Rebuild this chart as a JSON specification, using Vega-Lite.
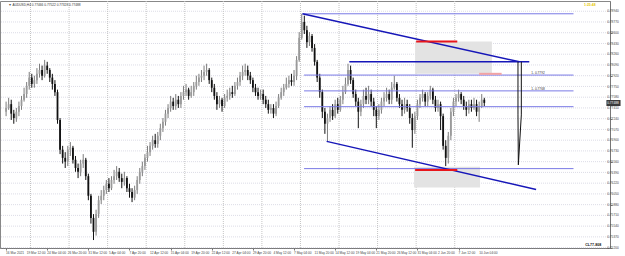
{
"$schema":"https://vega.github.io/schema/vega-lite/v6.json",
"width":610,"height":247,
"autosize":{"type":"none"},
"padding":{"left":0,"top":1,"right":15,"bottom":8},
"background":"white",
"config":{"view":{"stroke":"#888","strokeWidth":1},"font":"Liberation Sans",
 "axis":{"labels":false,"grid":false,"tickSize":2,"tickColor":"#777","domainColor":"#777","title":null}},
"datasets":{
"bars":[
{"i":0,"o":0.7735,"c":0.7741,"h":0.7751,"l":0.7728},
{"i":2,"o":0.7741,"c":0.7747,"h":0.7757,"l":0.7738},
{"i":4,"o":0.7747,"c":0.7732,"h":0.7754,"l":0.7722},
{"i":6,"o":0.7732,"c":0.7725,"h":0.7738,"l":0.7716},
{"i":8,"o":0.7725,"c":0.7735,"h":0.7741,"l":0.7719},
{"i":10,"o":0.7735,"c":0.7744,"h":0.7751,"l":0.7728},
{"i":12,"o":0.7744,"c":0.7754,"h":0.7760,"l":0.7738},
{"i":14,"o":0.7754,"c":0.7763,"h":0.7773,"l":0.7751},
{"i":16,"o":0.7763,"c":0.7776,"h":0.7782,"l":0.7757},
{"i":18,"o":0.7776,"c":0.7789,"h":0.7798,"l":0.7770},
{"i":20,"o":0.7789,"c":0.7779,"h":0.7795,"l":0.7773},
{"i":22,"o":0.7779,"c":0.7785,"h":0.7792,"l":0.7773},
{"i":24,"o":0.7785,"c":0.7795,"h":0.7804,"l":0.7779},
{"i":26,"o":0.7795,"c":0.7801,"h":0.7811,"l":0.7789},
{"i":28,"o":0.7801,"c":0.7792,"h":0.7808,"l":0.7785},
{"i":30,"o":0.7792,"c":0.7808,"h":0.7817,"l":0.7789},
{"i":32,"o":0.7808,"c":0.7801,"h":0.7814,"l":0.7795},
{"i":34,"o":0.7801,"c":0.7789,"h":0.7804,"l":0.7782},
{"i":36,"o":0.7789,"c":0.7779,"h":0.7795,"l":0.7770},
{"i":38,"o":0.7779,"c":0.7766,"h":0.7785,"l":0.7760},
{"i":40,"o":0.7766,"c":0.7722,"h":0.7770,"l":0.7716},
{"i":42,"o":0.7722,"c":0.7675,"h":0.7725,"l":0.7668},
{"i":44,"o":0.7675,"c":0.7662,"h":0.7681,"l":0.7653},
{"i":46,"o":0.7662,"c":0.7656,"h":0.7671,"l":0.7646},
{"i":48,"o":0.7656,"c":0.7675,"h":0.7681,"l":0.7649},
{"i":50,"o":0.7675,"c":0.7678,"h":0.7687,"l":0.7665},
{"i":52,"o":0.7678,"c":0.7659,"h":0.7681,"l":0.7653},
{"i":54,"o":0.7659,"c":0.7646,"h":0.7665,"l":0.7640},
{"i":56,"o":0.7646,"c":0.7640,"h":0.7653,"l":0.7630},
{"i":58,"o":0.7640,"c":0.7653,"h":0.7659,"l":0.7633},
{"i":60,"o":0.7653,"c":0.7659,"h":0.7668,"l":0.7646},
{"i":62,"o":0.7659,"c":0.7633,"h":0.7662,"l":0.7627},
{"i":64,"o":0.7633,"c":0.7602,"h":0.7637,"l":0.7595},
{"i":66,"o":0.7602,"c":0.7567,"h":0.7605,"l":0.7558},
{"i":68,"o":0.7567,"c":0.7545,"h":0.7573,"l":0.7532},
{"i":70,"o":0.7545,"c":0.7573,"h":0.7580,"l":0.7539},
{"i":72,"o":0.7573,"c":0.7595,"h":0.7602,"l":0.7567},
{"i":74,"o":0.7595,"c":0.7602,"h":0.7611,"l":0.7589},
{"i":76,"o":0.7602,"c":0.7611,"h":0.7618,"l":0.7595},
{"i":78,"o":0.7611,"c":0.7621,"h":0.7627,"l":0.7605},
{"i":80,"o":0.7621,"c":0.7614,"h":0.7630,"l":0.7608},
{"i":82,"o":0.7614,"c":0.7627,"h":0.7633,"l":0.7611},
{"i":84,"o":0.7627,"c":0.7633,"h":0.7643,"l":0.7621},
{"i":86,"o":0.7633,"c":0.7640,"h":0.7649,"l":0.7627},
{"i":88,"o":0.7640,"c":0.7630,"h":0.7646,"l":0.7624},
{"i":90,"o":0.7630,"c":0.7624,"h":0.7637,"l":0.7614},
{"i":92,"o":0.7624,"c":0.7630,"h":0.7640,"l":0.7618},
{"i":94,"o":0.7630,"c":0.7614,"h":0.7633,"l":0.7608},
{"i":96,"o":0.7614,"c":0.7608,"h":0.7621,"l":0.7599},
{"i":98,"o":0.7608,"c":0.7599,"h":0.7614,"l":0.7592},
{"i":100,"o":0.7599,"c":0.7611,"h":0.7618,"l":0.7595},
{"i":102,"o":0.7611,"c":0.7627,"h":0.7633,"l":0.7605},
{"i":104,"o":0.7627,"c":0.7640,"h":0.7646,"l":0.7621},
{"i":106,"o":0.7640,"c":0.7649,"h":0.7656,"l":0.7633},
{"i":108,"o":0.7649,"c":0.7662,"h":0.7668,"l":0.7643},
{"i":110,"o":0.7662,"c":0.7671,"h":0.7681,"l":0.7656},
{"i":112,"o":0.7671,"c":0.7681,"h":0.7687,"l":0.7665},
{"i":114,"o":0.7681,"c":0.7690,"h":0.7697,"l":0.7675},
{"i":116,"o":0.7690,"c":0.7684,"h":0.7700,"l":0.7678},
{"i":118,"o":0.7684,"c":0.7697,"h":0.7703,"l":0.7678},
{"i":120,"o":0.7697,"c":0.7709,"h":0.7716,"l":0.7690},
{"i":122,"o":0.7709,"c":0.7719,"h":0.7725,"l":0.7703},
{"i":124,"o":0.7719,"c":0.7732,"h":0.7738,"l":0.7713},
{"i":126,"o":0.7732,"c":0.7741,"h":0.7747,"l":0.7725},
{"i":128,"o":0.7741,"c":0.7751,"h":0.7760,"l":0.7735},
{"i":130,"o":0.7751,"c":0.7744,"h":0.7757,"l":0.7738},
{"i":132,"o":0.7744,"c":0.7754,"h":0.7763,"l":0.7738},
{"i":134,"o":0.7754,"c":0.7747,"h":0.7760,"l":0.7741},
{"i":136,"o":0.7747,"c":0.7760,"h":0.7766,"l":0.7741},
{"i":138,"o":0.7760,"c":0.7766,"h":0.7776,"l":0.7754},
{"i":140,"o":0.7766,"c":0.7770,"h":0.7779,"l":0.7760},
{"i":142,"o":0.7770,"c":0.7760,"h":0.7773,"l":0.7754},
{"i":144,"o":0.7760,"c":0.7766,"h":0.7776,"l":0.7757},
{"i":146,"o":0.7766,"c":0.7776,"h":0.7782,"l":0.7760},
{"i":148,"o":0.7776,"c":0.7782,"h":0.7792,"l":0.7770},
{"i":150,"o":0.7782,"c":0.7789,"h":0.7795,"l":0.7776},
{"i":152,"o":0.7789,"c":0.7792,"h":0.7801,"l":0.7782},
{"i":154,"o":0.7792,"c":0.7798,"h":0.7808,"l":0.7785},
{"i":156,"o":0.7798,"c":0.7801,"h":0.7811,"l":0.7792},
{"i":158,"o":0.7801,"c":0.7785,"h":0.7804,"l":0.7779},
{"i":160,"o":0.7785,"c":0.7773,"h":0.7789,"l":0.7766},
{"i":162,"o":0.7773,"c":0.7760,"h":0.7779,"l":0.7754},
{"i":164,"o":0.7760,"c":0.7747,"h":0.7766,"l":0.7738},
{"i":166,"o":0.7747,"c":0.7754,"h":0.7760,"l":0.7741},
{"i":168,"o":0.7754,"c":0.7744,"h":0.7757,"l":0.7735},
{"i":170,"o":0.7744,"c":0.7757,"h":0.7763,"l":0.7741},
{"i":172,"o":0.7757,"c":0.7760,"h":0.7770,"l":0.7751},
{"i":174,"o":0.7760,"c":0.7766,"h":0.7773,"l":0.7754},
{"i":176,"o":0.7766,"c":0.7763,"h":0.7776,"l":0.7757},
{"i":178,"o":0.7763,"c":0.7776,"h":0.7782,"l":0.7760},
{"i":180,"o":0.7776,"c":0.7782,"h":0.7789,"l":0.7770},
{"i":182,"o":0.7782,"c":0.7792,"h":0.7798,"l":0.7776},
{"i":184,"o":0.7792,"c":0.7798,"h":0.7808,"l":0.7785},
{"i":186,"o":0.7798,"c":0.7801,"h":0.7811,"l":0.7792},
{"i":188,"o":0.7801,"c":0.7792,"h":0.7808,"l":0.7785},
{"i":190,"o":0.7792,"c":0.7785,"h":0.7798,"l":0.7779},
{"i":192,"o":0.7785,"c":0.7773,"h":0.7789,"l":0.7766},
{"i":194,"o":0.7773,"c":0.7766,"h":0.7779,"l":0.7760},
{"i":196,"o":0.7766,"c":0.7760,"h":0.7773,"l":0.7754},
{"i":198,"o":0.7760,"c":0.7763,"h":0.7770,"l":0.7754},
{"i":200,"o":0.7763,"c":0.7754,"h":0.7770,"l":0.7747},
{"i":202,"o":0.7754,"c":0.7747,"h":0.7760,"l":0.7741},
{"i":204,"o":0.7747,"c":0.7738,"h":0.7754,"l":0.7732},
{"i":206,"o":0.7738,"c":0.7741,"h":0.7747,"l":0.7732},
{"i":208,"o":0.7741,"c":0.7732,"h":0.7747,"l":0.7725},
{"i":210,"o":0.7732,"c":0.7744,"h":0.7751,"l":0.7728},
{"i":212,"o":0.7744,"c":0.7757,"h":0.7763,"l":0.7741},
{"i":214,"o":0.7757,"c":0.7766,"h":0.7773,"l":0.7754},
{"i":216,"o":0.7766,"c":0.7773,"h":0.7779,"l":0.7760},
{"i":218,"o":0.7773,"c":0.7779,"h":0.7789,"l":0.7770},
{"i":220,"o":0.7779,"c":0.7785,"h":0.7792,"l":0.7773},
{"i":222,"o":0.7785,"c":0.7782,"h":0.7795,"l":0.7776},
{"i":224,"o":0.7782,"c":0.7792,"h":0.7801,"l":0.7776},
{"i":226,"o":0.7792,"c":0.7817,"h":0.7823,"l":0.7785},
{"i":228,"o":0.7817,"c":0.7852,"h":0.7861,"l":0.7814},
{"i":230,"o":0.7852,"c":0.7877,"h":0.7890,"l":0.7849},
{"i":232,"o":0.7877,"c":0.7864,"h":0.7887,"l":0.7858},
{"i":234,"o":0.7864,"c":0.7845,"h":0.7871,"l":0.7836},
{"i":236,"o":0.7845,"c":0.7855,"h":0.7861,"l":0.7839},
{"i":238,"o":0.7855,"c":0.7836,"h":0.7858,"l":0.7830},
{"i":240,"o":0.7836,"c":0.7814,"h":0.7842,"l":0.7808},
{"i":242,"o":0.7814,"c":0.7789,"h":0.7817,"l":0.7782},
{"i":244,"o":0.7789,"c":0.7766,"h":0.7795,"l":0.7757},
{"i":246,"o":0.7766,"c":0.7735,"h":0.7770,"l":0.7725},
{"i":248,"o":0.7735,"c":0.7716,"h":0.7741,"l":0.7700},
{"i":250,"o":0.7716,"c":0.7725,"h":0.7732,"l":0.7687},
{"i":252,"o":0.7725,"c":0.7738,"h":0.7744,"l":0.7719},
{"i":254,"o":0.7738,"c":0.7728,"h":0.7747,"l":0.7722},
{"i":256,"o":0.7728,"c":0.7747,"h":0.7754,"l":0.7725},
{"i":258,"o":0.7747,"c":0.7738,"h":0.7757,"l":0.7732},
{"i":260,"o":0.7738,"c":0.7754,"h":0.7760,"l":0.7735},
{"i":262,"o":0.7754,"c":0.7766,"h":0.7776,"l":0.7747},
{"i":264,"o":0.7766,"c":0.7779,"h":0.7789,"l":0.7763},
{"i":266,"o":0.7779,"c":0.7801,"h":0.7811,"l":0.7776},
{"i":268,"o":0.7801,"c":0.7785,"h":0.7808,"l":0.7779},
{"i":270,"o":0.7785,"c":0.7763,"h":0.7789,"l":0.7757},
{"i":272,"o":0.7763,"c":0.7751,"h":0.7770,"l":0.7744},
{"i":274,"o":0.7751,"c":0.7735,"h":0.7757,"l":0.7709},
{"i":276,"o":0.7735,"c":0.7747,"h":0.7754,"l":0.7728},
{"i":278,"o":0.7747,"c":0.7760,"h":0.7770,"l":0.7741},
{"i":280,"o":0.7760,"c":0.7754,"h":0.7773,"l":0.7747},
{"i":282,"o":0.7754,"c":0.7763,"h":0.7776,"l":0.7747},
{"i":284,"o":0.7763,"c":0.7751,"h":0.7770,"l":0.7744},
{"i":286,"o":0.7751,"c":0.7738,"h":0.7757,"l":0.7728},
{"i":288,"o":0.7738,"c":0.7728,"h":0.7744,"l":0.7709},
{"i":290,"o":0.7728,"c":0.7738,"h":0.7747,"l":0.7722},
{"i":292,"o":0.7738,"c":0.7751,"h":0.7757,"l":0.7732},
{"i":294,"o":0.7751,"c":0.7757,"h":0.7766,"l":0.7744},
{"i":296,"o":0.7757,"c":0.7763,"h":0.7773,"l":0.7751},
{"i":298,"o":0.7763,"c":0.7754,"h":0.7770,"l":0.7747},
{"i":300,"o":0.7754,"c":0.7773,"h":0.7782,"l":0.7747},
{"i":302,"o":0.7773,"c":0.7779,"h":0.7792,"l":0.7770},
{"i":304,"o":0.7779,"c":0.7757,"h":0.7782,"l":0.7751},
{"i":306,"o":0.7757,"c":0.7747,"h":0.7763,"l":0.7741},
{"i":308,"o":0.7747,"c":0.7738,"h":0.7754,"l":0.7728},
{"i":310,"o":0.7738,"c":0.7747,"h":0.7757,"l":0.7732},
{"i":312,"o":0.7747,"c":0.7741,"h":0.7754,"l":0.7735},
{"i":314,"o":0.7741,"c":0.7725,"h":0.7747,"l":0.7716},
{"i":316,"o":0.7725,"c":0.7706,"h":0.7732,"l":0.7678},
{"i":318,"o":0.7706,"c":0.7728,"h":0.7735,"l":0.7700},
{"i":320,"o":0.7728,"c":0.7747,"h":0.7754,"l":0.7722},
{"i":322,"o":0.7747,"c":0.7757,"h":0.7763,"l":0.7741},
{"i":324,"o":0.7757,"c":0.7763,"h":0.7770,"l":0.7751},
{"i":326,"o":0.7763,"c":0.7751,"h":0.7766,"l":0.7744},
{"i":328,"o":0.7751,"c":0.7760,"h":0.7766,"l":0.7744},
{"i":330,"o":0.7760,"c":0.7770,"h":0.7776,"l":0.7754},
{"i":332,"o":0.7770,"c":0.7754,"h":0.7773,"l":0.7747},
{"i":334,"o":0.7754,"c":0.7741,"h":0.7760,"l":0.7735},
{"i":336,"o":0.7741,"c":0.7747,"h":0.7754,"l":0.7735},
{"i":338,"o":0.7747,"c":0.7728,"h":0.7751,"l":0.7706},
{"i":340,"o":0.7728,"c":0.7681,"h":0.7732,"l":0.7675},
{"i":342,"o":0.7681,"c":0.7662,"h":0.7690,"l":0.7649},
{"i":344,"o":0.7662,"c":0.7697,"h":0.7703,"l":0.7653},
{"i":346,"o":0.7697,"c":0.7735,"h":0.7741,"l":0.7690},
{"i":348,"o":0.7735,"c":0.7751,"h":0.7757,"l":0.7728},
{"i":350,"o":0.7751,"c":0.7757,"h":0.7763,"l":0.7744},
{"i":352,"o":0.7757,"c":0.7763,"h":0.7770,"l":0.7751},
{"i":354,"o":0.7763,"c":0.7754,"h":0.7766,"l":0.7747},
{"i":356,"o":0.7754,"c":0.7744,"h":0.7760,"l":0.7738},
{"i":358,"o":0.7744,"c":0.7738,"h":0.7751,"l":0.7728},
{"i":360,"o":0.7738,"c":0.7747,"h":0.7754,"l":0.7732},
{"i":362,"o":0.7747,"c":0.7741,"h":0.7754,"l":0.7735},
{"i":364,"o":0.7741,"c":0.7747,"h":0.7757,"l":0.7738},
{"i":366,"o":0.7747,"c":0.7735,"h":0.7754,"l":0.7728},
{"i":368,"o":0.7735,"c":0.7744,"h":0.7751,"l":0.7719},
{"i":370,"o":0.7744,"c":0.7754,"h":0.7763,"l":0.7741},
{"i":372,"o":0.7754,"c":0.7749,"h":0.7757,"l":0.7744}
],
"yticks":[{"v":0.7894},{"v":0.7877},{"v":0.7860},{"v":0.7843},{"v":0.7826},{"v":0.7809},{"v":0.7792},{"v":0.7775},{"v":0.7758},{"v":0.7741},{"v":0.7724},{"v":0.7707},{"v":0.7690},{"v":0.7673},{"v":0.7656},{"v":0.7639},{"v":0.7622},{"v":0.7605},{"v":0.7588},{"v":0.7571},{"v":0.7554},{"v":0.7537},{"v":0.7520}],
"xticks":[{"i":0,"t":"16 Mar 2021"},{"i":16,"t":"19 Mar 12:00"},{"i":32,"t":"24 Mar 04:00"},{"i":48,"t":"26 Mar 20:00"},{"i":64,"t":"31 Mar 12:00"},{"i":80,"t":"5 Apr 04:00"},{"i":96,"t":"7 Apr 20:00"},{"i":112,"t":"12 Apr 12:00"},{"i":128,"t":"15 Apr 04:00"},{"i":144,"t":"19 Apr 20:00"},{"i":160,"t":"22 Apr 12:00"},{"i":176,"t":"27 Apr 04:00"},{"i":192,"t":"29 Apr 20:00"},{"i":208,"t":"4 May 12:00"},{"i":224,"t":"7 May 04:00"},{"i":240,"t":"11 May 20:00"},{"i":256,"t":"14 May 12:00"},{"i":272,"t":"19 May 04:00"},{"i":288,"t":"21 May 20:00"},{"i":304,"t":"26 May 12:00"},{"i":320,"t":"31 May 04:00"},{"i":336,"t":"2 Jun 20:00"},{"i":352,"t":"7 Jun 12:00"},{"i":368,"t":"10 Jun 04:00"}],
"seps":[{"i":19},{"i":49},{"i":79},{"i":109},{"i":139},{"i":169},{"i":199},{"i":229},{"i":259},{"i":289},{"i":319},{"i":349}],
"segs":[
{"g":"thin","x":231,"y":0.7890,"x2":441.4,"y2":0.7890},
{"g":"thin","x":231.8,"y":0.7793,"x2":441.4,"y2":0.7793},
{"g":"thin","x":231.8,"y":0.7768,"x2":441.4,"y2":0.7768},
{"g":"thin","x":231.8,"y":0.7743,"x2":441.4,"y2":0.7743},
{"g":"thin","x":231.8,"y":0.7645,"x2":441.4,"y2":0.7645},
{"g":"bold","x":230.5,"y":0.7890,"x2":399.3,"y2":0.7814},
{"g":"bold","x":267,"y":0.7814,"x2":407,"y2":0.7814},
{"g":"bold","x":249.4,"y":0.7688,"x2":412.3,"y2":0.7612},
{"g":"red","x":319,"y":0.7846,"x2":351,"y2":0.7846},
{"g":"red","x":318.2,"y":0.7643,"x2":351,"y2":0.7643},
{"g":"pink","x":368,"y":0.7795,"x2":385.5,"y2":0.7795},
{"g":"shape","x":398.2,"y":0.7814,"x2":398.2,"y2":0.7730},
{"g":"shape","x":398.2,"y":0.7730,"x2":398.5,"y2":0.7651},
{"g":"shape","x":400.8,"y":0.7814,"x2":400.8,"y2":0.7730},
{"g":"shape","x":400.8,"y":0.7730,"x2":398.5,"y2":0.7651}
],
"rects":[
{"x":318.2,"x2":377.9,"y":0.7846,"y2":0.7795},
{"x":317.4,"x2":368.7,"y":0.7648,"y2":0.7615}
],
"labels":[
{"x":408.5,"y":0.7796,"t":"1- 0.7792"},
{"x":408.5,"y":0.7771,"t":"1- 0.7768"}
]
},
"layer":[
{"data":{"name":"yticks"},"mark":{"type":"rule","color":"#dcdce6","strokeDash":[1,1],"strokeWidth":1},
 "encoding":{"y":{"field":"v","type":"quantitative","scale":{"domain":[0.75194,0.79102],"nice":false,"zero":false},
   "axis":{"orient":"right","values":[0.7894,0.7877,0.7860,0.7843,0.7826,0.7809,0.7792,0.7775,0.7758,0.7741,0.7724,0.7707,0.7690,0.7673,0.7656,0.7639,0.7622,0.7605,0.7588,0.7571,0.7554,0.7537,0.7520]}}}},
{"data":{"name":"seps"},"mark":{"type":"rule","color":"#c4c4c4","strokeDash":[1,1],"strokeWidth":1},
 "encoding":{"x":{"field":"i","type":"quantitative","scale":{"domain":[-0.84,465.9],"nice":false,"zero":false},
   "axis":{"orient":"bottom","values":[0,16,32,48,64,80,96,112,128,144,160,176,192,208,224,240,256,272,288,304,320,336,352,368]}}}},
{"data":{"name":"rects"},"mark":{"type":"rect","color":"#e3e3e3"},
 "encoding":{"x":{"field":"x","type":"quantitative"},"x2":{"field":"x2"},"y":{"field":"y","type":"quantitative"},"y2":{"field":"y2"}}},
{"data":{"name":"bars"},"mark":{"type":"rule","strokeWidth":1},
 "encoding":{"x":{"field":"i","type":"quantitative"},"y":{"field":"l","type":"quantitative"},"y2":{"field":"h"},
  "color":{"condition":{"test":"datum.c >= datum.o","value":"#7d7d7d"},"value":"#111"}}},
{"data":{"name":"bars"},"mark":{"type":"bar","size":1.8},
 "encoding":{"x":{"field":"i","type":"quantitative"},"y":{"field":"o","type":"quantitative"},"y2":{"field":"c"},
  "color":{"condition":{"test":"datum.c >= datum.o","value":"#9a9a9a"},"value":"#111"}}},
{"data":{"name":"segs"},"transform":[{"filter":"datum.g=='thin'"}],"mark":{"type":"rule","color":"#7a7ae6","strokeWidth":1},
 "encoding":{"x":{"field":"x","type":"quantitative"},"y":{"field":"y","type":"quantitative"},"x2":{"field":"x2"},"y2":{"field":"y2"}}},
{"data":{"name":"segs"},"transform":[{"filter":"datum.g=='bold'"}],"mark":{"type":"rule","color":"#1616b8","strokeWidth":1.4},
 "encoding":{"x":{"field":"x","type":"quantitative"},"y":{"field":"y","type":"quantitative"},"x2":{"field":"x2"},"y2":{"field":"y2"}}},
{"data":{"name":"segs"},"transform":[{"filter":"datum.g=='red'"}],"mark":{"type":"rule","color":"#e8151b","strokeWidth":2},
 "encoding":{"x":{"field":"x","type":"quantitative"},"y":{"field":"y","type":"quantitative"},"x2":{"field":"x2"},"y2":{"field":"y2"}}},
{"data":{"name":"segs"},"transform":[{"filter":"datum.g=='pink'"}],"mark":{"type":"rule","color":"#f2a3a3","strokeWidth":2},
 "encoding":{"x":{"field":"x","type":"quantitative"},"y":{"field":"y","type":"quantitative"},"x2":{"field":"x2"},"y2":{"field":"y2"}}},
{"data":{"name":"segs"},"transform":[{"filter":"datum.g=='shape'"}],"mark":{"type":"rule","color":"#111","strokeWidth":1},
 "encoding":{"x":{"field":"x","type":"quantitative"},"y":{"field":"y","type":"quantitative"},"x2":{"field":"x2"},"y2":{"field":"y2"}}},
{"data":{"name":"labels"},"mark":{"type":"text","fontSize":3.2,"color":"#333","align":"left","baseline":"middle"},
 "encoding":{"x":{"field":"x","type":"quantitative"},"y":{"field":"y","type":"quantitative"},"text":{"field":"t"}}},
{"data":{"name":"yticks"},"mark":{"type":"text","fontSize":3.2,"color":"#444","align":"left","baseline":"middle"},
 "encoding":{"x":{"datum":467.6,"type":"quantitative"},"y":{"field":"v","type":"quantitative"},"text":{"field":"v","type":"quantitative","format":".5f"}}},
{"data":{"name":"xticks"},"mark":{"type":"text","fontSize":3.2,"color":"#444","align":"left","baseline":"middle"},
 "encoding":{"x":{"field":"i","type":"quantitative"},"y":{"datum":0.7512,"type":"quantitative"},"text":{"field":"t"}}},
{"data":{"values":[{"t":"AUDUSD,H4  0.77466 0.77522 0.77328 0.77488","x":5,"y":0.7904}]},
 "mark":{"type":"text","fontSize":3.2,"color":"#333","align":"left","baseline":"middle"},
 "encoding":{"x":{"field":"x","type":"quantitative"},"y":{"field":"y","type":"quantitative"},"text":{"field":"t"}}},
{"data":{"values":[{"t":"\u25BE","x":2,"y":0.7904}]},
 "mark":{"type":"text","fontSize":4,"color":"#555","align":"left","baseline":"middle"},
 "encoding":{"x":{"field":"x","type":"quantitative"},"y":{"field":"y","type":"quantitative"},"text":{"field":"t"}}},
{"data":{"values":[{"t":"1:25:48","x":449.5,"y":0.7904}]},
 "mark":{"type":"text","fontSize":3.4,"color":"#e8c800","align":"left","baseline":"middle","fontWeight":"bold"},
 "encoding":{"x":{"field":"x","type":"quantitative"},"y":{"field":"y","type":"quantitative"},"text":{"field":"t"}}},
{"data":{"values":[{"t":"CL77-808","x":450.5,"y":0.7524}]},
 "mark":{"type":"text","fontSize":3.6,"color":"#111","align":"left","baseline":"middle","fontWeight":"bold"},
 "encoding":{"x":{"field":"x","type":"quantitative"},"y":{"field":"y","type":"quantitative"},"text":{"field":"t"}}},
{"data":{"values":[{"p":0.77488,"a":467,"b":478}]},"mark":{"type":"rect","color":"#3a3a3a","height":6},
 "encoding":{"x":{"field":"a","type":"quantitative"},"x2":{"field":"b"},"y":{"field":"p","type":"quantitative"}}},
{"data":{"values":[{"p":0.77488,"a":467.6,"t":"0.77488"}]},"mark":{"type":"text","fontSize":3.2,"color":"white","align":"left","baseline":"middle"},
 "encoding":{"x":{"field":"a","type":"quantitative"},"y":{"field":"p","type":"quantitative"},"text":{"field":"t"}}}
]
}
